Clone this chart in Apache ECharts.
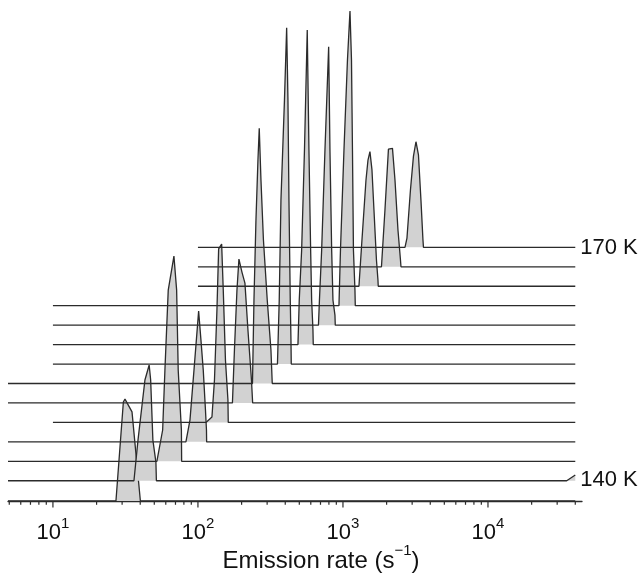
<!DOCTYPE html>
<html>
<head>
<meta charset="utf-8">
<script src="https://cdn.jsdelivr.net/npm/echarts@6/dist/echarts.min.js"></script>
<style>
html,body{margin:0;padding:0;background:#fff;}
#chart{width:643px;height:573px;}
</style>
</head>
<body>
<div id="chart"></div>
<script>
// ---- data ----
const traceLabels = ['', '140 K', '', '', '', '', '', '', '', '', '', '', '', '170 K'];
const baselines = [0, 1.04, 2.04, 3.04, 4.04, 5.04, 6.04, 7.04, 8.04, 9.04, 10.04, 11.04, 12.04, 13.04];
const traceStart = [4.9, 4.9, 4.9, 4.9, 10, 4.9, 4.9, 10, 10, 10, 10, 100, 100, 100];
const traceEnd = 40000;
// peaks: [emission rate (s^-1), amplitude above baseline]
const peak0 = [[27.2,0],[30.6,5.09],[31.4,5.24],[32.1,5.14],[35.1,4.58],[40.1,0]];
const peak1 = [[36.2,0],[38.6,2.09],[43.1,5.18],[46.1,5.95],[47.2,5.18],[48.9,2.09],[51.3,0.96],[51.7,0]];
const peak2 = [[52.1,0],[57.1,1.61],[59.2,4.69],[62.4,8.80],[68.3,10.55],[71.3,8.80],[73.1,4.69],[76.9,1.61],[77.2,0]];
const peak3 = [[82.6,0],[88.1,1.12],[93.9,3.69],[101.1,6.72],[104.9,5.23],[108.8,3.69],[112.7,1.63],[114.5,0.61],[114.8,0]];
const peak4 = [[113.6,0],[124.9,0.28],[130.0,2.18],[135.2,5.78],[138.9,8.92],[145.7,9.17],[149.5,6.80],[154.8,3.20],[161.0,1.15],[161.8,0]];
const peak5 = [[172.9,0],[178.5,2.72],[185.8,5.81],[191.7,7.40],[201.1,6.73],[210.9,6.16],[221.2,3.75],[233.9,1.18],[238.4,0]];
const peak6 = [[237.7,0],[243.4,4.29],[251.2,8.40],[259.3,11.49],[264.7,13.12],[272.0,10.46],[282.9,7.38],[300.5,4.29],[318.7,1.72],[325.4,0]];
const peak7 = [[353.4,0],[363.6,3.29],[373.6,8.43],[395.0,13.57],[409.0,17.29],[417.5,13.57],[424.2,8.43],[433.1,3.29],[438.0,1.23],[440.0,0]];
const peak8 = [[489.4,0],[499.6,2.29],[518.9,4.86],[542.7,10.01],[567.2,16.17],[582.7,10.01],[598.6,4.86],[608.2,2.29],[621.0,0.75],[624.0,0]];
const peak9 = [[677.6,0],[688.4,1.29],[713.0,3.86],[751.4,9.01],[796.8,14.31],[813.4,9.01],[835.8,3.86],[853.1,1.29],[880.6,0.52],[885.0,0]];
const peak10 = [[938.5,0],[961.2,2.86],[1016,8.0],[1074,12.63],[1118,15.15],[1145,12.63],[1163,8.0],[1181,2.86],[1210,0.8],[1216,0]];
const peak11 = [[1289,0],[1352,2.38],[1441,5.45],[1488,6.49],[1535,6.92],[1585,5.98],[1636,3.92],[1702,1.35],[1743,0.32],[1751,0]];
const peak12 = [[1843,0],[1948,2.92],[2059,6.05],[2195,6.09],[2284,4.46],[2395,1.89],[2492,0.35],[2512,0]];
const peak13 = [[2677,0],[2763,0.48],[2920,2.95],[3063,4.69],[3187,5.43],[3316,4.75],[3450,2.43],[3562,0.38],[3591,0]];
const tail1 = [[34900,0],[40000,0.3]];
const majorTicks = [10, 100, 1000, 10000];
const minorTicks = [5,6,7,8,9, 20,30,40,50,60,70,80,90, 200,300,400,500,600,700,800,900,
  2000,3000,4000,5000,6000,7000,8000,9000, 20000,30000,40000];

// ---- build ----
const peaks = [peak0,peak1,peak2,peak3,peak4,peak5,peak6,peak7,peak8,peak9,peak10,peak11,peak12,peak13];
const FONT = 'Liberation Sans, Arial, Helvetica, sans-serif';
const INK = '#2b2b2b';
const series = [];
peaks.forEach(function (pk, i) {
  const b = baselines[i];
  const data = [[traceStart[i], b]];
  pk.forEach(function (p) { data.push([p[0], b + p[1]]); });
  if (i === 1) {
    tail1.forEach(function (p) { data.push([p[0], b + p[1]]); });
  } else {
    data.push([traceEnd, b]);
  }
  const s = {
    type: 'line',
    data: data,
    symbol: 'none',
    clip: false,
    silent: true,
    z: 2 + i * 0.01,
    lineStyle: { color: INK, width: 1.3 },
    areaStyle: { color: '#d2d2d2', opacity: 1, origin: b }
  };
  if (traceLabels[i]) {
    s.endLabel = {
      show: true,
      formatter: traceLabels[i],
      distance: 5,
      offset: [0, i === 1 ? 5 : 1],
      color: '#111',
      fontSize: 22,
      fontFamily: FONT
    };
  }
  series.push(s);
});
const tickData = majorTicks.map(function (v) { return [v, 0, 6.5]; })
  .concat(minorTicks.map(function (v) { return [v, 0, 3.8]; }));
series.push({
  type: 'custom',
  data: tickData,
  encode: { x: 0, y: 1 },
  clip: false,
  silent: true,
  z: 5,
  renderItem: function (params, api) {
    const p = api.coord([api.value(0), 0]);
    const len = api.value(2);
    return {
      type: 'line',
      shape: { x1: p[0], y1: p[1], x2: p[0], y2: p[1] + len },
      style: { stroke: INK, lineWidth: 1.2 }
    };
  }
});

const chart = echarts.init(document.getElementById('chart'), null, { renderer: 'canvas' });
chart.setOption({
  animation: false,
  backgroundColor: '#fff',
  grid: { left: 8, right: 61, top: 5, bottom: 72, containLabel: false, outerBoundsMode: 'none' },
  xAxis: {
    type: 'log',
    logBase: 10,
    min: 4.9,
    max: 44500,
    name: '{t|Emission rate (s}{sup|\u22121}{t|)}',
    nameLocation: 'middle',
    nameGap: 42,
    nameMoveOverlap: false,
    nameTextStyle: {
      padding: [0, 0, 0, 52],
      rich: {
        t: { fontSize: 24, fontFamily: FONT, color: '#111', lineHeight: 30, verticalAlign: 'bottom' },
        sup: { fontSize: 15, fontFamily: FONT, color: '#111', lineHeight: 30, verticalAlign: 'top', padding: [0, 0, 8, 0] }
      }
    },
    axisLine: { show: true, lineStyle: { color: INK, width: 1.3 } },
    axisTick: { show: false },
    minorTick: { show: false },
    splitLine: { show: false },
    minorSplitLine: { show: false },
    axisLabel: {
      show: true,
      showMinLabel: false,
      showMaxLabel: false,
      margin: 15,
      formatter: function (v) {
        return '{b|10}{sup|' + Math.round(Math.log10(v)) + '}';
      },
      rich: {
        b: { fontSize: 22, fontFamily: FONT, color: '#111', lineHeight: 28, verticalAlign: 'bottom' },
        sup: { fontSize: 15, fontFamily: FONT, color: '#111', lineHeight: 28, verticalAlign: 'top', padding: [0, 0, 8, 0] }
      }
    }
  },
  yAxis: {
    type: 'value',
    min: 0,
    max: 25.5,
    show: false,
    splitLine: { show: false }
  },
  series: series
});
</script>
</body>
</html>
